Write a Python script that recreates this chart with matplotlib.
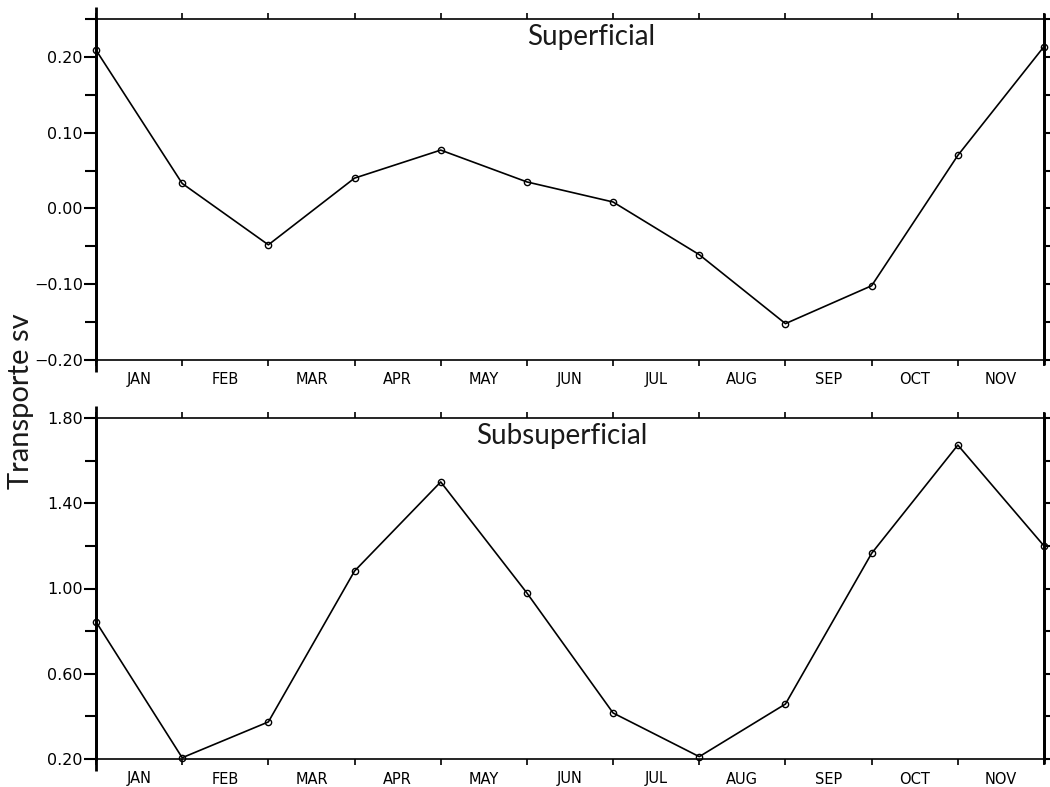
import matplotlib
matplotlib.use("Agg")
import matplotlib.pyplot as plt
from matplotlib.ticker import FixedLocator, NullFormatter, FixedFormatter

months = ["JAN", "FEB", "MAR", "APR", "MAY", "JUN", "JUL", "AUG", "SEP", "OCT", "NOV"]
steps = list(range(12))

superficial = [0.209, 0.033, -0.048, 0.040, 0.077, 0.035, 0.0085, -0.061,
               -0.152, -0.102, 0.070, 0.2136]
subsuperficial = [0.844, 0.206, 0.374, 1.082, 1.50, 0.979, 0.416, 0.211,
                  0.458, 1.165, 1.673, 1.20]

sup_major = [-0.20, -0.10, 0.00, 0.10, 0.20]
sup_minor = [-0.15, -0.05, 0.05, 0.15, 0.25]
sub_major = [0.20, 0.60, 1.00, 1.40, 1.80]
sub_minor = [0.40, 0.80, 1.20, 1.60]

panel_titles = ["Superficial", "Subsuperficial"]
ylabel = "Transporte sv"

W, H = 1050, 787
fig = plt.figure(figsize=(W / 100, H / 100), dpi=100)

ax_left = 96 / W
ax_width = (1044 - 96) / W
top_box = [ax_left, 1 - 360 / H, ax_width, (360 - 19) / H]
bot_box = [ax_left, 1 - 759 / H, ax_width, (759 - 418) / H]

title_font = dict(family=["Lato", "DejaVu Sans"], weight="normal")


def fmt_tick(v):
    return "{:.2f}".format(v + 0.0).replace("-", "\u2212")


def draw_panel(ax, series, ylim, major, minor, title, title_x):
    ax.plot(steps, series, color="black", lw=1.2,
            marker="o", ms=4.5, mfc="none", mec="black", mew=1.0, zorder=3,
            clip_on=False)
    ax.set_xlim(0, 11)
    ax.set_ylim(*ylim)

    # x axis: short ticks at each step, month names between them
    ax.xaxis.set_major_locator(FixedLocator(steps))
    ax.xaxis.set_major_formatter(NullFormatter())
    ax.xaxis.set_minor_locator(FixedLocator([s + 0.5 for s in steps[:-1]]))
    ax.xaxis.set_minor_formatter(FixedFormatter(months))
    ax.tick_params(axis="x", which="major", direction="out", length=4,
                   width=1.2, top=True, bottom=True)
    ax.tick_params(axis="x", which="minor", length=0, pad=9,
                   labelsize=10.5, top=False)

    # y axis
    ax.yaxis.set_major_locator(FixedLocator(major))
    ax.yaxis.set_minor_locator(FixedLocator(minor))
    ax.yaxis.set_major_formatter(FixedFormatter([fmt_tick(v) for v in major]))
    ax.tick_params(axis="y", which="major", direction="out", length=8.5,
                   width=1.5, pad=1, labelsize=11.5, left=True, right=True)
    ax.tick_params(axis="y", which="minor", direction="out", length=8,
                   width=1.5, left=True, right=True)

    for side in ("left", "right"):
        ax.spines[side].set_linewidth(2.0)
    for side in ("top", "bottom"):
        ax.spines[side].set_linewidth(1.2)

    # left and right frame lines run slightly past the box
    ax.plot([0, 0], [-0.035, 1.035], transform=ax.transAxes, color="black",
            lw=2.0, clip_on=False, solid_capstyle="butt")
    ax.plot([1, 1], [-0.015, 1.018], transform=ax.transAxes, color="black",
            lw=2.0, clip_on=False, solid_capstyle="butt")

    ax.text(title_x, 0.948, title, transform=ax.transAxes, ha="center",
            va="center", fontsize=20, color="#1a1a1a", **title_font)


ax1 = fig.add_axes(top_box)
draw_panel(ax1, superficial, (-0.20, 0.25), sup_major, sup_minor,
           panel_titles[0], 0.522)

ax2 = fig.add_axes(bot_box)
draw_panel(ax2, subsuperficial, (0.20, 1.80), sub_major, sub_minor,
           panel_titles[1], 0.4916)

fig.text(21 / W, 1 - 401 / H, ylabel, rotation=90, ha="center", va="center",
         fontsize=21, color="#1a1a1a", **title_font)

fig.savefig("out.png", dpi=100)
